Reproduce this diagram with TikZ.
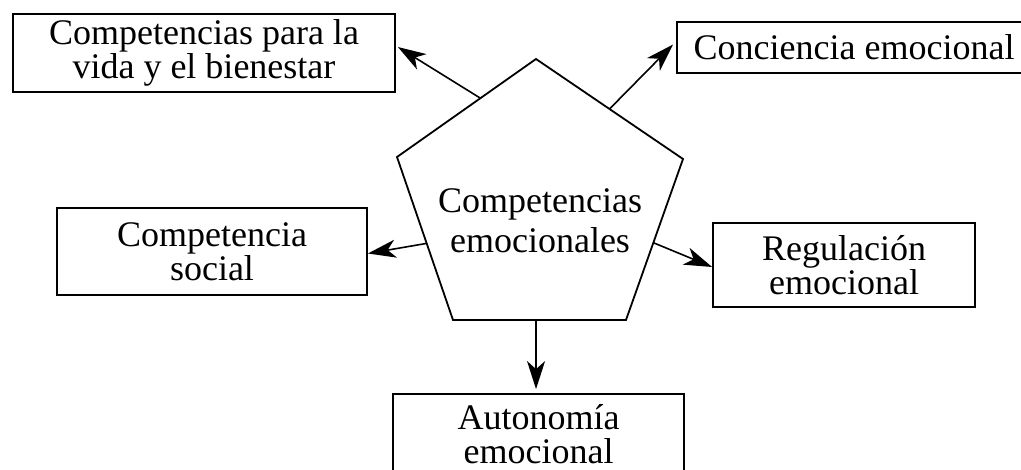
\documentclass[tikz,border=0pt]{standalone}
\usepackage{fontspec}
\setmainfont{Liberation Serif}
\usetikzlibrary{calc,arrows.meta}
\begin{document}
\begin{tikzpicture}[x=1pt,y=-1pt,
  box/.style={draw, line width=1.8pt, align=center, inner sep=0pt,
    font=\fontsize{36}{34}\selectfont},
  ptext/.style={align=center, inner sep=0pt, font=\fontsize{36}{40}\selectfont},
  arr/.style={-{Stealth[length=28pt,width=18pt,inset=8pt]}, line width=1.6pt},
]
\useasboundingbox (0,0) rectangle (1021,470);

% pentagon
\coordinate (pT) at (536,59);
\coordinate (pR) at (683,159);
\coordinate (pBR) at (626,320);
\coordinate (pBL) at (453,320);
\coordinate (pL) at (397,157);
\draw[line width=1.8pt, line join=miter] (pT) -- (pR) -- (pBR) -- (pBL) -- (pL) -- cycle;
\node[ptext] (c) at (540,221) {Competencias\\emocionales};

\coordinate (s1) at ($(pT)!0.40!(pL)$);
\coordinate (s2) at ($(pT)!0.50!(pR)$);
\coordinate (s3) at ($(pL)!0.53!(pBL)$);
\coordinate (s4) at ($(pR)!0.52!(pBR)$);
\coordinate (s5) at ($(pBL)!0.48!(pBR)$);

% boxes
\node[box, minimum width=382pt, minimum height=78pt] (b1) at (204,53) {Competencias para la\\vida y el bienestar};
\node[box, minimum width=354pt, minimum height=51pt] (b2) at (854,47.5) {Conciencia emocional};
\node[box, minimum width=310pt, minimum height=87pt] (b3) at (212,251.5) {Competencia\\social};
\node[box, minimum width=262pt, minimum height=84pt] (b4) at (844,265) {Regulación\\emocional};
\node[box, minimum width=291pt, minimum height=80pt] (b5) at (538.5,434) {Autonomía\\emocional};

% arrows
\draw[arr] (s1) -- ($(b1.east)+(2,-6)$);
\draw[arr] (s2) -- ($(b2.west)+(-3,-3)$);
\draw[arr] (s3) -- ($(b3.east)+(0,2)$);
\draw[arr] (s4) -- ($(b4.west)+(0,2)$);
\draw[arr, shorten >=4pt] (s5) -- (s5 |- b5.north);
\end{tikzpicture}
\end{document}
